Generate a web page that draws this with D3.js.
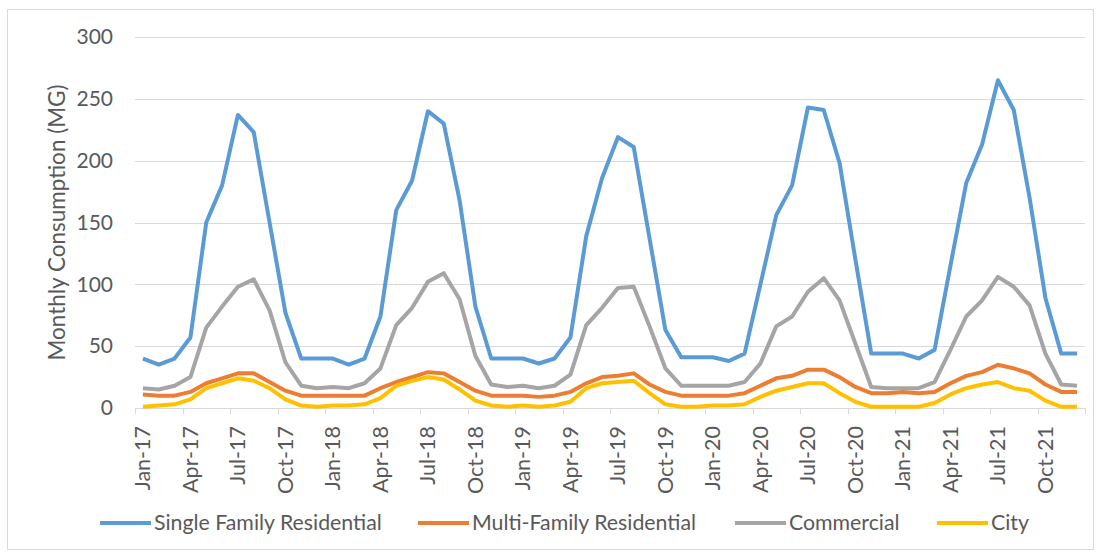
<!DOCTYPE html>
<html>
<head>
<meta charset="utf-8">
<script src="https://cdn.jsdelivr.net/npm/d3@7"></script>
<style>
  body { margin: 0; background: #fff; }
  text { font-family: Lato, "Liberation Sans", sans-serif; fill: #595959; }
</style>
</head>
<body>
<div id="chart"></div>
<script>
const width = 1100;
const height = 557;

const marginLeft = 135;
const marginRight = 15;
const marginTop = 37;
const plotBottom = 408;

// categories: Jan-17 .. Dec-21
const monthNames = ["Jan", "Feb", "Mar", "Apr", "May", "Jun", "Jul", "Aug", "Sep", "Oct", "Nov", "Dec"];
const years = ["17", "18", "19", "20", "21"];
const months = years.flatMap(y => monthNames.map(m => `${m}-${y}`));

const yTicks = [0, 50, 100, 150, 200, 250, 300];

const singleFamily = [
  40, 35, 40, 57, 150, 180, 237, 223, 150, 77, 40, 40,
  40, 35, 40, 74, 160, 184, 240, 230, 168, 82, 40, 40,
  40, 36, 40, 57, 139, 186, 219, 211, 137, 63, 41, 41,
  41, 38, 44, 100, 156, 180, 243, 241, 198, 120, 44, 44,
  44, 40, 47, 115, 182, 213, 265, 241, 170, 89, 44, 44
];
const multiFamily = [
  11, 10, 10, 13, 20, 24, 28, 28, 21, 14, 10, 10,
  10, 10, 10, 16, 21, 25, 29, 28, 21, 14, 10, 10,
  10, 9, 10, 13, 20, 25, 26, 28, 19, 13, 10, 10,
  10, 10, 12, 18, 24, 26, 31, 31, 25, 17, 12, 12,
  13, 12, 13, 20, 26, 29, 35, 32, 28, 19, 13, 13
];
const commercial = [
  16, 15, 18, 25, 65, 82, 98, 104, 79, 37, 18, 16,
  17, 16, 20, 32, 67, 81, 102, 109, 88, 42, 19, 17,
  18, 16, 18, 27, 67, 81, 97, 98, 66, 32, 18, 18,
  18, 18, 21, 36, 66, 74, 94, 105, 87, 52, 17, 16,
  16, 16, 21, 47, 74, 87, 106, 98, 83, 44, 19, 18
];
const city = [
  1, 2, 3, 7, 16, 20, 24, 22, 16, 7, 2, 1,
  2, 2, 3, 8, 18, 22, 25, 23, 15, 6, 2, 1,
  2, 1, 2, 5, 16, 20, 21, 22, 12, 3, 1, 1,
  2, 2, 3, 9, 14, 17, 20, 20, 12, 5, 1, 1,
  1, 1, 4, 11, 16, 19, 21, 16, 14, 6, 1, 1
];

const seriesNames = ["Single Family Residential", "Multi-Family Residential", "Commercial", "City"];
const seriesValues = [singleFamily, multiFamily, commercial, city];
const colors = ["#5b9bd5", "#ed7d31", "#a5a5a5", "#ffc000"];

const svg = d3.select("#chart").append("svg")
  .attr("width", width)
  .attr("height", height);

// chart frame
svg.append("rect")
  .attr("x", 7.5).attr("y", 9.5)
  .attr("width", 1086).attr("height", 540)
  .attr("fill", "#fff")
  .attr("stroke", "#d9d9d9");

const x = d3.scaleBand()
  .domain(months)
  .range([marginLeft, width - marginRight])
  .padding(0);

const y = d3.scaleLinear()
  .domain([0, 300])
  .range([plotBottom, marginTop]);

// gridlines
svg.append("g")
  .selectAll("line")
  .data(yTicks.filter(d => d > 0))
  .join("line")
    .attr("x1", marginLeft)
    .attr("x2", width - marginRight)
    .attr("y1", d => Math.round(y(d)) + 0.5)
    .attr("y2", d => Math.round(y(d)) + 0.5)
    .attr("stroke", "#d9d9d9");

// y axis labels (no axis line)
const yAxis = svg.append("g")
  .attr("transform", `translate(${marginLeft}, 0)`)
  .call(d3.axisLeft(y).tickValues(yTicks).tickSize(0).tickPadding(22));
yAxis.select(".domain").remove();
yAxis.selectAll("text")
  .attr("font-size", 21)
  .attr("fill", "#595959")
  .style("font-family", "Lato, sans-serif");

// x axis line
svg.append("line")
  .attr("x1", marginLeft).attr("x2", width - marginRight)
  .attr("y1", plotBottom + 0.5).attr("y2", plotBottom + 0.5)
  .attr("stroke", "#d9d9d9");

// tick marks between categories, every 3 months
const tickEdges = months.filter((d, i) => i % 3 === 0).map(d => x(d)).concat([width - marginRight]);
svg.append("g")
  .selectAll("line")
  .data(tickEdges)
  .join("line")
    .attr("x1", d => Math.round(d) + 0.5)
    .attr("x2", d => Math.round(d) + 0.5)
    .attr("y1", plotBottom)
    .attr("y2", plotBottom + 6)
    .attr("stroke", "#d9d9d9");

// rotated month labels
svg.append("g")
  .selectAll("text")
  .data(months.filter((d, i) => i % 3 === 0))
  .join("text")
    .attr("transform", d => `translate(${x(d) + x.bandwidth() / 2}, 426) rotate(-90)`)
    .attr("text-anchor", "end")
    .attr("dy", "0.35em")
    .attr("font-size", 21.5)
    .text(d => d);

// y axis title
svg.append("text")
  .attr("transform", `translate(57, ${(marginTop + plotBottom) / 2}) rotate(-90)`)
  .attr("text-anchor", "middle")
  .attr("dy", "0.35em")
  .attr("font-size", 22.5)
  .text("Monthly Consumption (MG)");

// lines
const line = d3.line()
  .x((d, i) => x(months[i]) + x.bandwidth() / 2)
  .y(d => y(d));

svg.append("g")
  .selectAll("path")
  .data(seriesValues)
  .join("path")
    .attr("fill", "none")
    .attr("stroke", (d, i) => colors[i])
    .attr("stroke-width", 4)
    .attr("stroke-linejoin", "round")
    .attr("d", d => line(d));

// legend
const legendX = [100, 418, 735, 937];
const legend = svg.append("g")
  .selectAll("g")
  .data(seriesNames)
  .join("g")
    .attr("transform", (d, i) => `translate(${legendX[i]}, 523)`);

legend.append("line")
  .attr("x1", 0).attr("x2", 51)
  .attr("stroke", (d, i) => colors[i])
  .attr("stroke-width", 4);

legend.append("text")
  .attr("x", 54)
  .attr("dy", "0.35em")
  .attr("font-size", 21.3)
  .text(d => d);
</script>
</body>
</html>
